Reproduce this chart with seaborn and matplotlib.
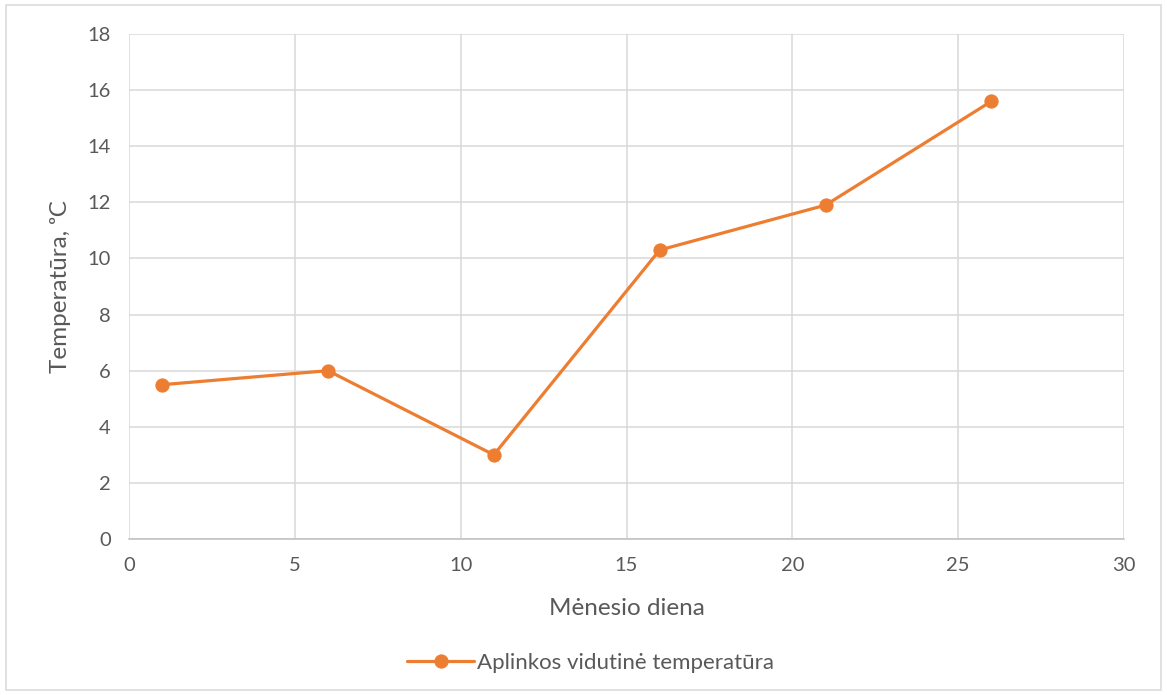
import pandas as pd
import matplotlib.pyplot as plt
import seaborn as sns

sns.set_style("white")
plt.rcParams['font.family'] = ['Lato', 'DejaVu Sans']

# data
days = [1, 6, 11, 16, 21, 26]
temps = [5.5, 6.0, 3.0, 10.3, 11.9, 15.6]
series_name = 'Aplinkos vidutinė temperatūra'

df = pd.DataFrame({'day': days, 'temp': temps, 'series': series_name})

text_col = '#595959'
orange = '#ED7D31'

fig = plt.figure(figsize=(11.67, 6.95), dpi=100)
ax = fig.add_axes([129 / 1167, 1 - 539 / 695, (1124 - 129) / 1167, (539 - 34) / 695])

sns.lineplot(data=df, x='day', y='temp', hue='series', palette=[orange],
             marker='o', markersize=9.5, markeredgecolor=orange, linewidth=2.3, ax=ax)

ax.set_xlim(0, 30)
ax.set_ylim(0, 18)
ax.set_xticks(range(0, 31, 5))
ax.set_yticks(range(0, 19, 2))
ax.grid(True, color='#D9D9D9', linewidth=1.1)
ax.set_axisbelow(True)
for side in ['top', 'right', 'left']:
    ax.spines[side].set_visible(False)
ax.spines['bottom'].set_color('#BFBFBF')
ax.spines['bottom'].set_linewidth(1.1)
ax.tick_params(axis='both', length=0, labelsize=14.5, colors=text_col, pad=13)

ax.set_xlabel('Mėnesio diena', fontsize=17.5, color=text_col, labelpad=17)
ax.set_ylabel('Temperatūra, ᵒC', fontsize=17.5, color=text_col, labelpad=12)

ax.legend(loc='upper center', bbox_to_anchor=(0.464, -0.186), frameon=False,
          fontsize=16, labelcolor=text_col, handlelength=3.0, handletextpad=0.15)

# light border around the whole chart
fig.patches.append(plt.Rectangle((6 / 1167, 5 / 695), 1155 / 1167, 685 / 695,
                                 transform=fig.transFigure, fill=False,
                                 edgecolor='#D9D9D9', linewidth=1.1))

fig.savefig('out.png', dpi=100)
